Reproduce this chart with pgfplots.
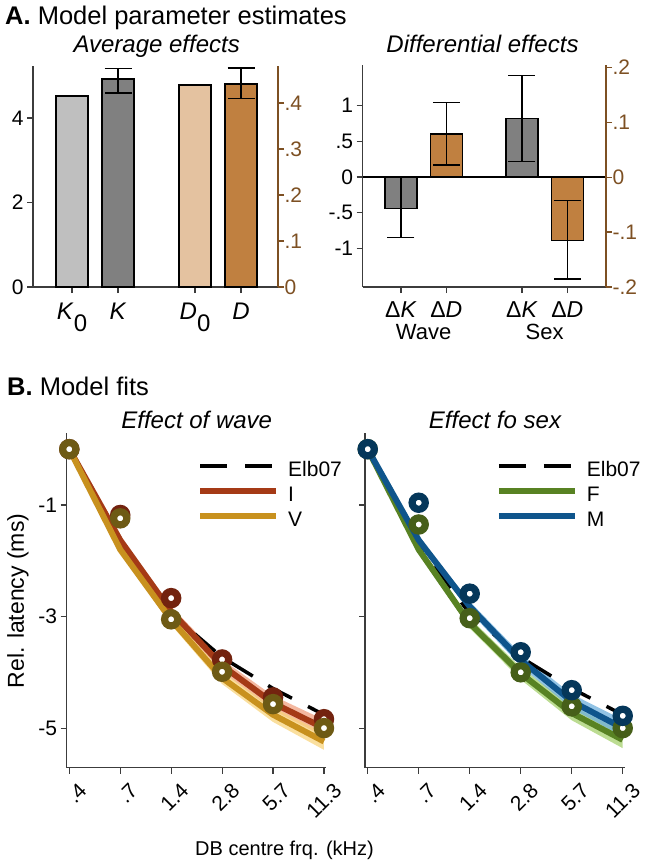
\documentclass[border=0pt]{standalone}
\usepackage{fontspec}
\setmainfont{Liberation Sans}
\usepackage{pgfplots}
\pgfplotsset{compat=1.18}

\definecolor{kzero}{RGB}{191,191,191}
\definecolor{kcol}{RGB}{128,128,128}
\definecolor{dzero}{RGB}{228,194,160}
\definecolor{dcol}{RGB}{192,128,64}
\definecolor{raxis}{RGB}{125,80,35}
\definecolor{spine}{RGB}{60,60,60}
\definecolor{waveI}{RGB}{165,58,22}
\definecolor{waveIband}{RGB}{240,160,128}
\definecolor{waveImk}{RGB}{115,35,15}
\definecolor{waveV}{RGB}{200,145,30}
\definecolor{waveVband}{RGB}{248,212,125}
\definecolor{waveVmk}{RGB}{110,90,20}
\definecolor{sexF}{RGB}{88,130,35}
\definecolor{sexFband}{RGB}{165,208,110}
\definecolor{sexFmk}{RGB}{70,95,25}
\definecolor{sexM}{RGB}{15,85,140}
\definecolor{sexMband}{RGB}{110,175,220}
\definecolor{sexMmk}{RGB}{5,55,90}

\newcommand{\fs}[1]{\fontsize{#1pt}{#1pt}\selectfont}

\pgfplotsset{
  panel/.style={
    scale only axis, anchor=south west, clip=false,
    axis line style={spine, line width=1.1pt},
    tick style={spine, line width=1.1pt},
    tick align=outside, major tick length=6pt,
    ticklabel style={font=\fs{21}},
  },
  bar/.style={ybar, bar width=32pt, bar shift=0pt, fill=#1, draw=black, line width=1.3pt},
  errs/.style={error bars/.cd, y dir=both, y explicit,
    error bar style={black, line width=1.2pt},
    error mark options={rotate=90, black, mark size=13.5pt, line width=1.2pt}},
  fit/.style={draw=#1, line width=6pt, line join=round, forget plot},
  ring/.style={only marks, mark=*, mark size=6.6pt, forget plot,
    mark options={draw=#1, fill=white, line width=7.2pt}},
  band/.style={fill=#1, draw=none, fill opacity=0.75, forget plot},
  elb/.style={black, line width=3.5pt, dash pattern=on 27pt off 18pt},
  rotlabels/.style={xticklabel style={rotate=45, anchor=north east, font=\fs{21},
    xshift=4pt, yshift=-8pt}},
  fitlegend/.style={
    legend image code/.code={\draw[##1] (0pt,6pt) -- (76pt,6pt);},
    legend style={at={(0.5025,0.914)}, anchor=north west, draw=none, fill=none,
      inner sep=0pt, font=\fs{21}, row sep=5pt,
      nodes={inner sep=0pt, text height=15pt, text depth=5pt},
      /tikz/every odd column/.append style={column sep=9pt}},
    legend cell align=left,
  },
}

\begin{document}
\begin{tikzpicture}
\path[use as bounding box] (0pt,0pt) rectangle (645pt,-866pt);

% ---------- titles ----------
\node[anchor=base west, font=\fs{25.5}, inner sep=0pt] at (5pt,-25pt) {\textbf{A.} Model parameter estimates};
\node[anchor=base, font=\fs{24}\itshape, inner sep=0pt] at (156.7pt,-52.7pt) {Average effects};
\node[anchor=base, font=\fs{24}\itshape, inner sep=0pt] at (482.5pt,-52.7pt) {Differential effects};
\node[anchor=base west, font=\fs{25.5}, inner sep=0pt] at (7pt,-395pt) {\textbf{B.} Model fits};
\node[anchor=base, font=\fs{24}\itshape, inner sep=0pt] at (196.7pt,-428.3pt) {Effect of wave};
\node[anchor=base, font=\fs{24}\itshape, inner sep=0pt] at (495pt,-428.3pt) {Effect fo sex};

% ---------- A: average effects, left scale (K) ----------
\begin{axis}[panel, at={(33pt,-287pt)}, width=245pt, height=221pt,
  xmin=-0.848, xmax=4.478, ymin=0, ymax=5.23,
  axis x line*=bottom, axis y line*=left,
  xtick={0,1,2.674,3.674},
  xticklabels={\textit{K}\raisebox{-12.5pt}{0},\textit{K},\textit{D}\raisebox{-12.5pt}{0},\textit{D}},
  xticklabel style={font=\fs{24}, anchor=north, yshift=-6pt},
  ytick={0,2,4}, yticklabels={0,2,4}]
\addplot[bar=kzero] coordinates {(0,4.52)};
\addplot[bar=kcol, errs] coordinates {(1,4.92) += (0,0.26) -= (0,0.33)};
\end{axis}

% ---------- A: average effects, right scale (D) ----------
\begin{axis}[panel, at={(33pt,-287pt)}, width=245pt, height=221pt,
  xmin=-0.848, xmax=4.478, ymin=0, ymax=0.4804,
  axis x line=none, axis y line*=right,
  axis line style={raxis}, tick style={raxis},
  yticklabel style={text=raxis, xshift=-3pt},
  ytick={0,0.1,0.2,0.3,0.4}, yticklabels={0,.1,.2,.3,.4}]
\addplot[bar=dzero] coordinates {(2.674,0.439)};
\addplot[bar=dcol, errs] coordinates {(3.674,0.441) += (0,0.035) -= (0,0.032)};
\end{axis}

% ---------- A: differential effects, left scale (Delta K) ----------
\begin{axis}[panel, at={(362.7pt,-287pt)}, width=243.3pt, height=222pt,
  xmin=-0.845, xmax=4.525, ymin=-1.543, ymax=1.571,
  axis x line*=bottom, axis y line*=left,
  xtick={0,1,2.67,3.67},
  xticklabels={Δ\textit{K},Δ\textit{D},Δ\textit{K},Δ\textit{D}},
  xticklabel style={font=\fs{23}, yshift=-5pt},
  ytick={-1,-0.5,0,0.5,1}, yticklabels={-1,-.5,0,.5,1}]
\draw[black, line width=1.1pt] (axis cs:-0.845,0) -- (axis cs:4.525,0);
\addplot[bar=kcol, errs] coordinates {(0,-0.44) += (0,0.445) -= (0,0.41)};
\addplot[bar=kcol, errs] coordinates {(2.67,0.823) += (0,0.597) -= (0,0.608)};
\node[font=\fs{22}, anchor=base] at ([yshift=-52pt]axis cs:0.5,-1.543) {Wave};
\node[font=\fs{22}, anchor=base] at ([yshift=-52pt]axis cs:3.17,-1.543) {Sex};
\end{axis}

% ---------- A: differential effects, right scale (Delta D) ----------
\begin{axis}[panel, at={(362.7pt,-287pt)}, width=243.3pt, height=222pt,
  xmin=-0.845, xmax=4.525, ymin=-0.2, ymax=0.204,
  axis x line=none, axis y line*=right,
  axis line style={raxis}, tick style={raxis},
  yticklabel style={text=raxis, xshift=-3pt},
  ytick={-0.2,-0.1,0,0.1,0.2}, yticklabels={-.2,-.1,0,.1,.2}]
\addplot[bar=dcol, errs] coordinates {(1,0.0786) += (0,0.057) -= (0,0.0565)};
\addplot[bar=dcol, errs] coordinates {(3.67,-0.116) += (0,0.0736) -= (0,0.0695)};
\end{axis}

% ---------- B: effect of wave ----------
\begin{axis}[panel, fitlegend, rotlabels, at={(66.7pt,-767.7pt)}, width=259.3pt, height=334.7pt,
  xmin=-0.051, xmax=5.04, ymin=-5.71, ymax=0.29,
  axis x line*=bottom, axis y line*=left,
  xtick={0,1,2,3,4,5}, xticklabels={.4,.7,1.4,2.8,5.7,11.3},
  ytick={-1,-3,-5}, yticklabels={-1,-3,-5}]
\addplot[band=waveIband] coordinates {(0,0)(1,-1.57)(2,-2.82)(3,-3.77)(4,-4.42)(5,-4.85)
  (5,-5.15)(4,-4.68)(3,-3.99)(2,-3.0)(1,-1.69)(0,0)};
\addplot[band=waveVband] coordinates {(0,0)(1,-1.74)(2,-2.97)(3,-3.99)(4,-4.63)(5,-5.09)
  (5,-5.39)(4,-4.89)(3,-4.21)(2,-3.15)(1,-1.86)(0,0)};
\addplot[elb, forget plot] coordinates {(0,0)(1,-1.70)(2,-2.95)(3,-3.73)(4,-4.29)(5,-4.76)};
\addplot[fit=waveI] coordinates {(0,0)(1,-1.63)(2,-2.91)(3,-3.88)(4,-4.55)(5,-5.00)};
\addplot[fit=waveV] coordinates {(0,0)(1,-1.80)(2,-3.06)(3,-4.10)(4,-4.76)(5,-5.24)};
\addplot[ring=waveImk] coordinates {(0,0)(1,-1.18)(2,-2.67)(3,-3.77)(4,-4.45)(5,-4.84)};
\addplot[ring=waveVmk] coordinates {(0,0)(1,-1.24)(2,-3.05)(3,-3.99)(4,-4.57)(5,-5.00)};
\addlegendimage{elb}
\addlegendentry{Elb07}
\addlegendimage{waveI, line width=6pt}
\addlegendentry{I}
\addlegendimage{waveV, line width=6pt}
\addlegendentry{V}
\end{axis}

% ---------- B: effect of sex ----------
\begin{axis}[panel, fitlegend, rotlabels, at={(365pt,-767.7pt)}, width=260pt, height=334.7pt,
  xmin=-0.053, xmax=5.045, ymin=-5.71, ymax=0.29,
  axis x line*=bottom, axis y line*=left,
  xtick={0,1,2,3,4,5}, xticklabels={.4,.7,1.4,2.8,5.7,11.3},
  ytick={-1,-3,-5}, yticklabels={}]
\addplot[band=sexFband] coordinates {(0,0)(1,-1.74)(2,-3.03)(3,-3.91)(4,-4.60)(5,-5.06)
  (5,-5.36)(4,-4.86)(3,-4.13)(2,-3.21)(1,-1.86)(0,0)};
\addplot[band=sexMband] coordinates {(0,0)(1,-1.57)(2,-2.73)(3,-3.67)(4,-4.39)(5,-4.85)
  (5,-5.15)(4,-4.65)(3,-3.89)(2,-2.91)(1,-1.69)(0,0)};
\addplot[elb, forget plot] coordinates {(0,0)(1,-1.70)(2,-2.95)(3,-3.73)(4,-4.29)(5,-4.76)};
\addplot[fit=sexF] coordinates {(0,0)(1,-1.80)(2,-3.12)(3,-4.02)(4,-4.73)(5,-5.21)};
\addplot[fit=sexM] coordinates {(0,0)(1,-1.63)(2,-2.82)(3,-3.78)(4,-4.52)(5,-5.00)};
\addplot[ring=sexFmk] coordinates {(0,0)(1,-1.35)(2,-3.03)(3,-4.00)(4,-4.61)(5,-5.00)};
\addplot[ring=sexMmk] coordinates {(0,0)(1,-0.96)(2,-2.59)(3,-3.64)(4,-4.32)(5,-4.78)};
\addlegendimage{elb}
\addlegendentry{Elb07}
\addlegendimage{sexF, line width=6pt}
\addlegendentry{F}
\addlegendimage{sexM, line width=6pt}
\addlegendentry{M}
\end{axis}

% ---------- shared axis labels ----------
\node[rotate=90, font=\fs{23}] at (18pt,-601pt) {Rel. latency (ms)};
\node[font=\fs{20}] at (284.5pt,-850pt) {DB centre frq. (kHz)};
\end{tikzpicture}
\end{document}
